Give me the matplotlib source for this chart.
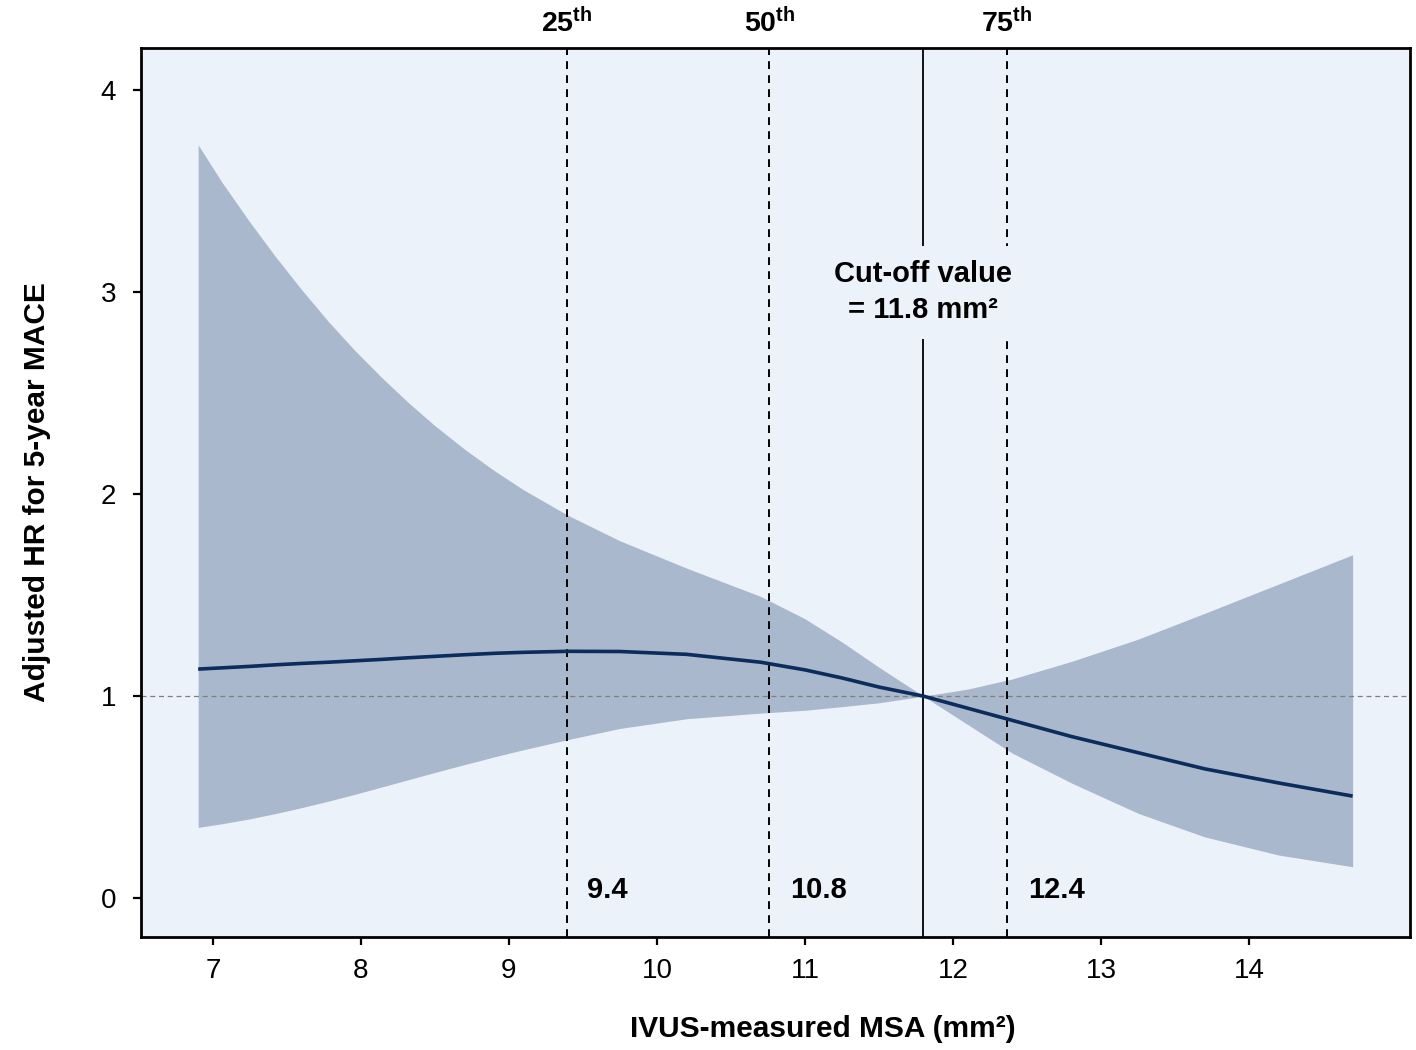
import matplotlib
matplotlib.use("Agg")
import matplotlib.pyplot as plt
import numpy as np

plt.rcParams['font.family'] = ['Liberation Sans', 'DejaVu Sans']
plt.rcParams['mathtext.fontset'] = 'custom'
plt.rcParams['mathtext.rm'] = 'Liberation Sans'
plt.rcParams['mathtext.bf'] = 'Liberation Sans:bold'

# Data
msa = [6.9, 7.06, 7.24, 7.42, 7.6, 7.78, 7.96, 8.14, 8.32, 8.5, 8.7, 8.9, 9.1, 9.4,
       9.75, 10.2, 10.7, 11.0, 11.25, 11.5, 11.8, 12.1, 12.4, 12.8, 13.25, 13.7, 14.2, 14.7]
hr = [1.134, 1.14, 1.147, 1.155, 1.162, 1.168, 1.175, 1.182, 1.19, 1.197, 1.205, 1.212, 1.217, 1.222,
      1.221, 1.207, 1.168, 1.13, 1.09, 1.045, 1.0, 0.94, 0.88, 0.80, 0.72, 0.64, 0.57, 0.505]
upper = [3.73, 3.546, 3.357, 3.179, 3.012, 2.855, 2.711, 2.578, 2.454, 2.339, 2.223, 2.117, 2.021, 1.895,
         1.769, 1.634, 1.494, 1.383, 1.268, 1.143, 1.0, 1.035, 1.085, 1.172, 1.282, 1.41, 1.555, 1.70]
lower = [0.35, 0.368, 0.391, 0.418, 0.448, 0.48, 0.514, 0.55, 0.586, 0.622, 0.661, 0.699, 0.735, 0.785,
         0.84, 0.888, 0.916, 0.93, 0.948, 0.967, 1.0, 0.859, 0.718, 0.57, 0.42, 0.303, 0.213, 0.155]

pct_values = [9.39, 10.76, 12.365]
pct_names = ["25", "50", "75"]
pct_labels = ["9.4", "10.8", "12.4"]
cutoff = 11.8
xticks = [7, 8, 9, 10, 11, 12, 13, 14]
yticks = [0, 1, 2, 3, 4]

BG = '#EBF2FA'
BAND = '#A9B8CC'
LINE = '#0B2C5C'

fig = plt.figure(figsize=(14.16, 10.5), dpi=100)
ax = fig.add_axes([0.0996, 0.1076, 0.8962, 0.8467])
ax.set_facecolor(BG)

ax.fill_between(msa, lower, upper, color=BAND, linewidth=0, zorder=1)
ax.plot(msa, hr, color=LINE, lw=2.6, zorder=4, solid_capstyle='butt', solid_joinstyle='round')
ax.axhline(1, color='#7f7f7f', lw=0.9, ls=(0, (4, 3)), zorder=2)

for v in pct_values:
    ax.axvline(v, color='black', lw=1.4, ls=(0, (4, 3.2)), zorder=3)
ax.axvline(cutoff, color='black', lw=1.3, zorder=3)

ax.set_xlim(6.514, 15.088)
ax.set_ylim(-0.193, 4.21)

trans = matplotlib.transforms.blended_transform_factory(ax.transData, ax.transAxes)
for v, n in zip(pct_values, pct_names):
    ax.text(v, 1.028, r'$\mathbf{%s^{th}}$' % n, transform=trans, ha='center', va='center',
            fontsize=20.5, clip_on=False)
for v, lab in zip(pct_values, pct_labels):
    ax.text(v + 0.14, 0.04, lab, ha='left', va='center', fontsize=21, fontweight='bold', zorder=5)

ax.text(cutoff, 3.0, "Cut-off value\n= 11.8 mm\u00b2", ha='center', va='center', fontsize=21,
        fontweight='bold', linespacing=1.35, zorder=5,
        bbox=dict(boxstyle='square,pad=0.5', facecolor=BG, edgecolor='none'))

ax.set_xticks(xticks)
ax.set_yticks(yticks)
ax.tick_params(axis='both', direction='out', length=6, width=1.6, labelsize=20)
ax.tick_params(axis='y', pad=12)
ax.tick_params(axis='x', pad=9)

for s in ax.spines.values():
    s.set_linewidth(2.0)

ax.set_xlabel("IVUS-measured MSA (mm\u00b2)", fontsize=21.5, fontweight='bold')
ax.xaxis.set_label_coords(0.537, -0.088)
ax.set_ylabel("Adjusted HR for 5-year MACE", fontsize=21.5, fontweight='bold', labelpad=36)

fig.savefig("out.png", dpi=100, facecolor='white')
